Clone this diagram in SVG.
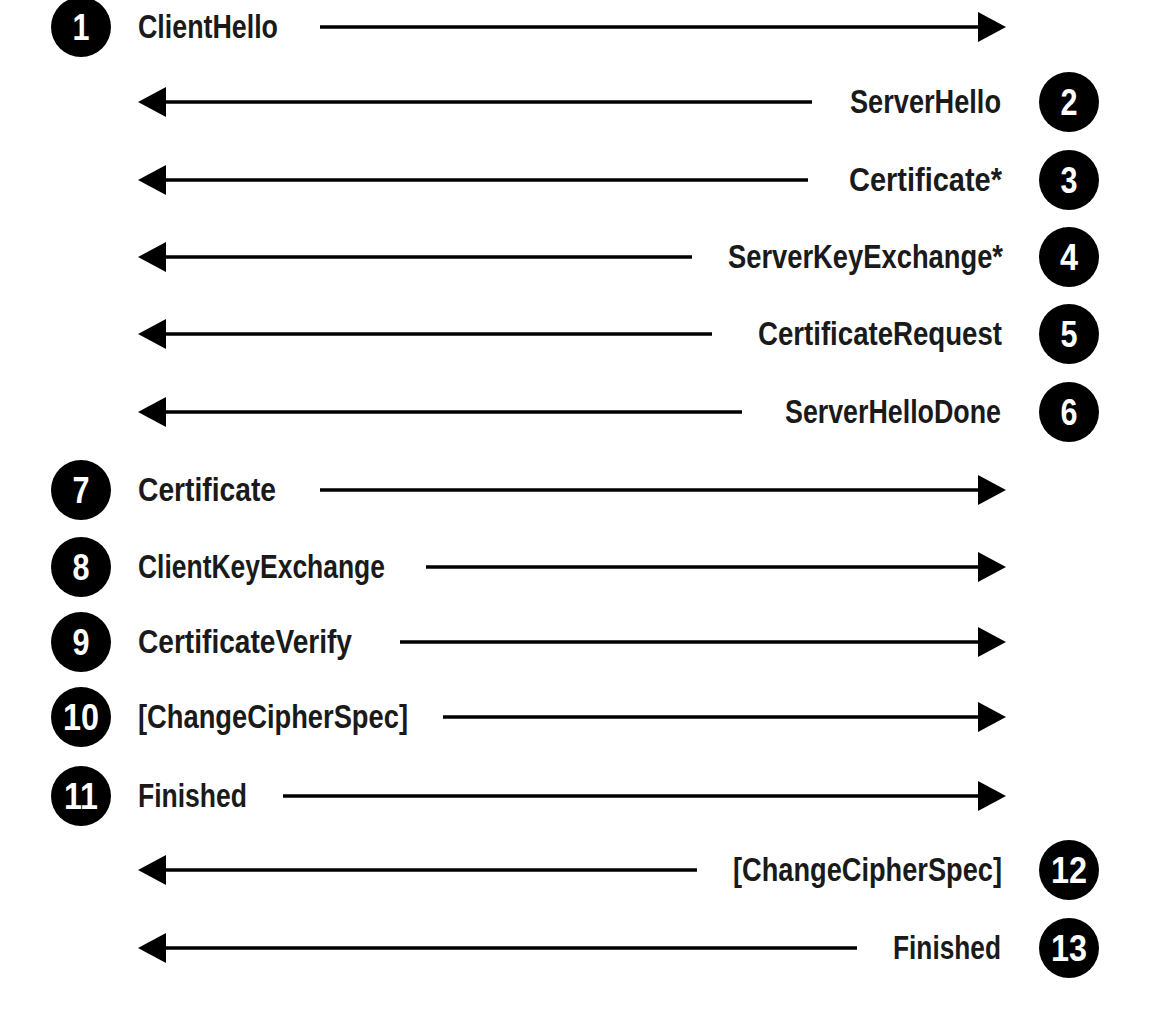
<svg xmlns="http://www.w3.org/2000/svg" width="1158" height="1022" viewBox="0 0 1158 1022">
<style>
.lbl{font-family:"Liberation Sans Narrow","Liberation Sans",Arial,sans-serif;font-weight:bold;font-size:33px;fill:#1a1a1a}
.num{font-family:"Liberation Sans Narrow","Liberation Sans",Arial,sans-serif;font-weight:bold;font-size:37px;fill:#fff;text-anchor:middle}
.dot{fill:#000}
.ln{stroke:#000;stroke-width:3.5;fill:none}
.hd{fill:#000}
</style>
<defs>
<polygon id="hr" points="0,-15 28,0 0,15"/>
<polygon id="hl" points="0,-15 -28,0 0,15"/>
</defs>
<rect width="1158" height="1022" fill="#fff"/>
<g id="connectors">
<line class="ln" x1="320" y1="27" x2="982" y2="27"/><use href="#hr" class="hd" x="978" y="27"/>
<line class="ln" x1="162" y1="102" x2="812" y2="102"/><use href="#hl" class="hd" x="166" y="102"/>
<line class="ln" x1="162" y1="180" x2="808" y2="180"/><use href="#hl" class="hd" x="166" y="180"/>
<line class="ln" x1="162" y1="257" x2="692" y2="257"/><use href="#hl" class="hd" x="166" y="257"/>
<line class="ln" x1="162" y1="334" x2="712" y2="334"/><use href="#hl" class="hd" x="166" y="334"/>
<line class="ln" x1="162" y1="412" x2="742" y2="412"/><use href="#hl" class="hd" x="166" y="412"/>
<line class="ln" x1="320" y1="490" x2="982" y2="490"/><use href="#hr" class="hd" x="978" y="490"/>
<line class="ln" x1="426" y1="567" x2="982" y2="567"/><use href="#hr" class="hd" x="978" y="567"/>
<line class="ln" x1="400" y1="642" x2="982" y2="642"/><use href="#hr" class="hd" x="978" y="642"/>
<line class="ln" x1="443" y1="717" x2="982" y2="717"/><use href="#hr" class="hd" x="978" y="717"/>
<line class="ln" x1="283" y1="796" x2="982" y2="796"/><use href="#hr" class="hd" x="978" y="796"/>
<line class="ln" x1="162" y1="870" x2="697" y2="870"/><use href="#hl" class="hd" x="166" y="870"/>
<line class="ln" x1="162" y1="948" x2="857" y2="948"/><use href="#hl" class="hd" x="166" y="948"/>
</g>
<g id="n1"><circle class="dot" cx="81" cy="27" r="30"/><text class="num" x="81" y="40" textLength="17" lengthAdjust="spacingAndGlyphs">1</text><text class="lbl" x="138" y="38" textLength="140" lengthAdjust="spacingAndGlyphs">ClientHello</text></g>
<g id="n2"><circle class="dot" cx="1069" cy="102" r="30"/><text class="num" x="1069" y="115" textLength="17" lengthAdjust="spacingAndGlyphs">2</text><text class="lbl" x="850" y="113" textLength="151" lengthAdjust="spacingAndGlyphs">ServerHello</text></g>
<g id="n3"><circle class="dot" cx="1069" cy="180" r="30"/><text class="num" x="1069" y="193" textLength="17" lengthAdjust="spacingAndGlyphs">3</text><text class="lbl" x="849" y="191" textLength="153" lengthAdjust="spacingAndGlyphs">Certificate*</text></g>
<g id="n4"><circle class="dot" cx="1069" cy="257" r="30"/><text class="num" x="1069" y="270" textLength="18" lengthAdjust="spacingAndGlyphs">4</text><text class="lbl" x="728" y="268" textLength="275" lengthAdjust="spacingAndGlyphs">ServerKeyExchange*</text></g>
<g id="n5"><circle class="dot" cx="1069" cy="334" r="30"/><text class="num" x="1069" y="347" textLength="17" lengthAdjust="spacingAndGlyphs">5</text><text class="lbl" x="758" y="345" textLength="244" lengthAdjust="spacingAndGlyphs">CertificateRequest</text></g>
<g id="n6"><circle class="dot" cx="1069" cy="412" r="30"/><text class="num" x="1069" y="425" textLength="17" lengthAdjust="spacingAndGlyphs">6</text><text class="lbl" x="785" y="423" textLength="216" lengthAdjust="spacingAndGlyphs">ServerHelloDone</text></g>
<g id="n7"><circle class="dot" cx="81" cy="490" r="30"/><text class="num" x="81" y="503" textLength="17" lengthAdjust="spacingAndGlyphs">7</text><text class="lbl" x="138" y="501" textLength="138" lengthAdjust="spacingAndGlyphs">Certificate</text></g>
<g id="n8"><circle class="dot" cx="81" cy="567" r="30"/><text class="num" x="81" y="580" textLength="17" lengthAdjust="spacingAndGlyphs">8</text><text class="lbl" x="138" y="578" textLength="247" lengthAdjust="spacingAndGlyphs">ClientKeyExchange</text></g>
<g id="n9"><circle class="dot" cx="81" cy="642" r="30"/><text class="num" x="81" y="655" textLength="17" lengthAdjust="spacingAndGlyphs">9</text><text class="lbl" x="138" y="653" textLength="214" lengthAdjust="spacingAndGlyphs">CertificateVerify</text></g>
<g id="n10"><circle class="dot" cx="81" cy="717" r="30"/><text class="num" x="81" y="730" textLength="36" lengthAdjust="spacingAndGlyphs">10</text><text class="lbl" x="138" y="728" textLength="270" lengthAdjust="spacingAndGlyphs">[ChangeCipherSpec]</text></g>
<g id="n11"><circle class="dot" cx="81" cy="796" r="30"/><text class="num" x="81" y="809" textLength="34" lengthAdjust="spacingAndGlyphs">11</text><text class="lbl" x="138" y="807" textLength="109" lengthAdjust="spacingAndGlyphs">Finished</text></g>
<g id="n12"><circle class="dot" cx="1069" cy="870" r="30"/><text class="num" x="1069" y="883" textLength="36" lengthAdjust="spacingAndGlyphs">12</text><text class="lbl" x="733" y="881" textLength="269" lengthAdjust="spacingAndGlyphs">[ChangeCipherSpec]</text></g>
<g id="n13"><circle class="dot" cx="1069" cy="948" r="30"/><text class="num" x="1069" y="961" textLength="36" lengthAdjust="spacingAndGlyphs">13</text><text class="lbl" x="893" y="959" textLength="108" lengthAdjust="spacingAndGlyphs">Finished</text></g>
</svg>
